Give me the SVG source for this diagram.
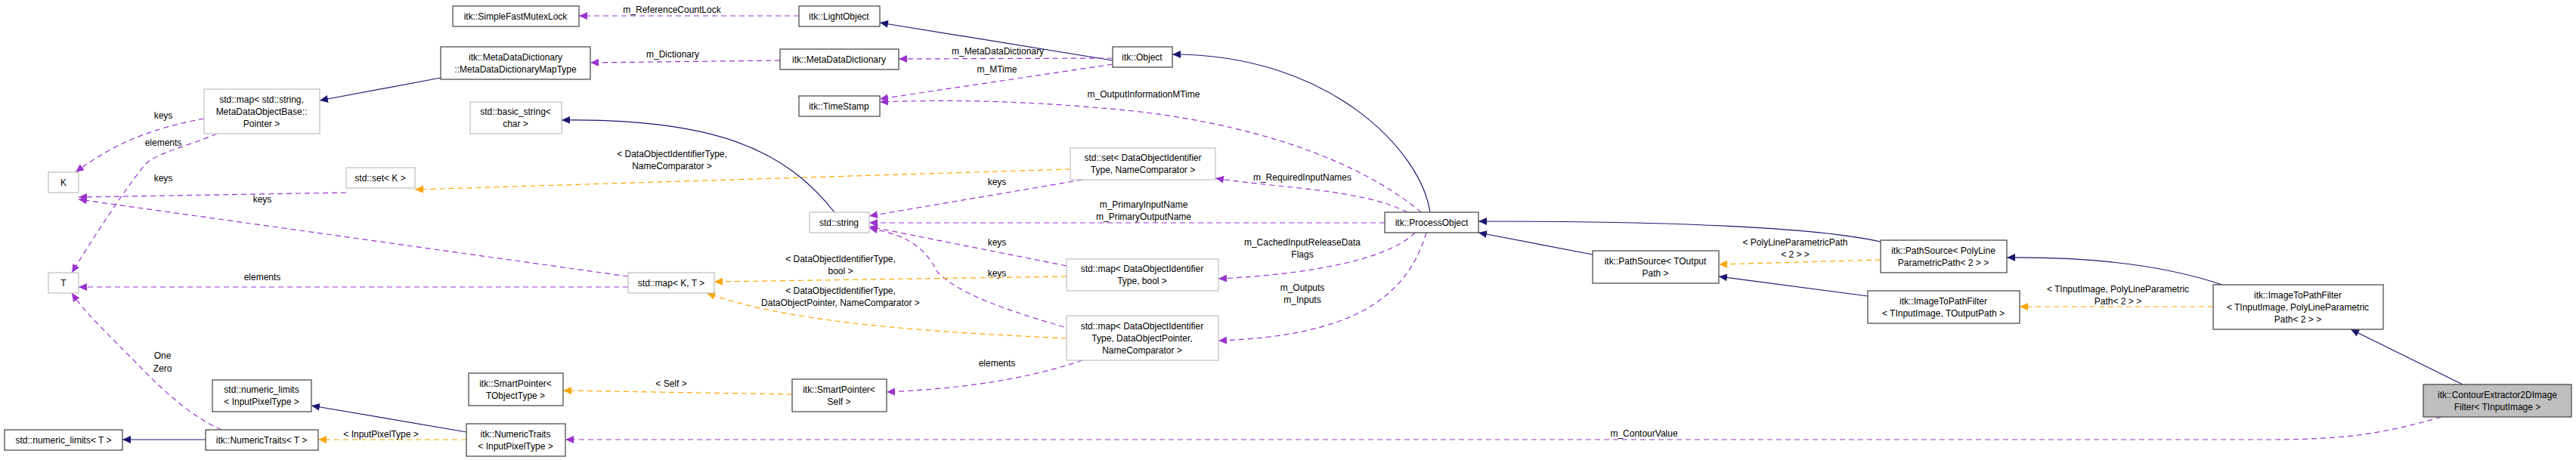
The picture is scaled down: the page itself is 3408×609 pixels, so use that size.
<svg xmlns="http://www.w3.org/2000/svg" width="3408" height="609" viewBox="0 0 3408 609">
<style>
text{font-family:"Liberation Sans",Arial,sans-serif;font-size:12px;fill:#000;text-anchor:middle}
.n rect{fill:#fff;stroke:#404040;stroke-width:1.2}
.g rect{fill:#fff;stroke:#bfbfbf;stroke-width:1.2}
.h rect{fill:#bfbfbf;stroke:#404040;stroke-width:1.2}
.inh{fill:none;stroke:#191970;stroke-width:1.2}
.use{fill:none;stroke:#9a32cd;stroke-width:1.2;stroke-dasharray:7,5}
.tpl{fill:none;stroke:#ffa500;stroke-width:1.2;stroke-dasharray:7,5}
</style>
<defs>
<marker id="aN" markerUnits="userSpaceOnUse" markerWidth="12" markerHeight="10" refX="11" refY="5" orient="auto"><path d="M0,0L11,5L0,10z" fill="#191970"/></marker>
<marker id="aP" markerUnits="userSpaceOnUse" markerWidth="12" markerHeight="10" refX="11" refY="5" orient="auto"><path d="M0,0L11,5L0,10z" fill="#9a32cd"/></marker>
<marker id="aO" markerUnits="userSpaceOnUse" markerWidth="12" markerHeight="10" refX="11" refY="5" orient="auto"><path d="M0,0L11,5L0,10z" fill="#ffa500"/></marker>
</defs>
<g id="edges">
<path class="use" marker-end="url(#aP)" d="M1057,21L766,21"/>
<text x="889" y="17">m_ReferenceCountLock</text>
<path class="inh" marker-end="url(#aN)" d="M1472,80L1164,30"/>
<path class="use" marker-end="url(#aP)" d="M1472,77L1189,78"/>
<text x="1320" y="72">m_MetaDataDictionary</text>
<path class="use" marker-end="url(#aP)" d="M1032,80L781,83"/>
<text x="890" y="76">m_Dictionary</text>
<path class="inh" marker-end="url(#aN)" d="M583,103L423,133"/>
<path class="use" marker-end="url(#aP)" d="M1472,85L1164,131"/>
<text x="1319" y="96">m_MTime</text>
<path class="use" marker-end="url(#aP)" d="M1880,281C1820,230 1700,170 1500,147C1350,132 1250,132 1164,135"/>
<text x="1513" y="129">m_OutputInformationMTime</text>
<path class="inh" marker-end="url(#aN)" d="M1892,281C1880,200 1760,72 1551,72"/>
<path class="use" marker-end="url(#aP)" d="M270,157C200,170 150,190 100,228"/>
<text x="216" y="157">keys</text>
<path class="use" marker-end="url(#aP)" d="M287,177C250,193 215,200 195,215C175,235 120,320 95,361"/>
<text x="216" y="193">elements</text>
<path class="use" marker-end="url(#aP)" d="M458,255L104,261"/>
<text x="216" y="240">keys</text>
<path class="use" marker-end="url(#aP)" d="M831,366L104,264"/>
<text x="347" y="268">keys</text>
<path class="use" marker-end="url(#aP)" d="M831,380L104,380"/>
<text x="347" y="371">elements</text>
<path class="tpl" marker-end="url(#aO)" d="M1416,224L549,251"/>
<text x="889" y="208">&lt; DataObjectIdentifierType,</text>
<text x="889" y="224">NameComparator &gt;</text>
<path class="inh" marker-end="url(#aN)" d="M1104,281C1040,200 950,157 743,159"/>
<path class="use" marker-end="url(#aP)" d="M1432,238L1150,286"/>
<text x="1319" y="245">keys</text>
<path class="use" marker-end="url(#aP)" d="M1862,281C1800,250 1700,250 1608,236"/>
<text x="1723" y="239">m_RequiredInputNames</text>
<path class="use" marker-end="url(#aP)" d="M1832,295L1150,295"/>
<text x="1513" y="275">m_PrimaryInputName</text>
<text x="1513" y="291">m_PrimaryOutputName</text>
<path class="use" marker-end="url(#aP)" d="M1411,352L1150,300"/>
<text x="1319" y="325">keys</text>
<path class="use" marker-end="url(#aP)" d="M1408,433C1330,410 1270,390 1240,360C1220,320 1190,310 1150,302"/>
<text x="1319" y="366">keys</text>
<path class="tpl" marker-end="url(#aO)" d="M1411,366L945,373"/>
<text x="1112" y="347">&lt; DataObjectIdentifierType,</text>
<text x="1112" y="363">bool &gt;</text>
<path class="tpl" marker-end="url(#aO)" d="M1411,448C1250,440 1050,430 935,388"/>
<text x="1112" y="389">&lt; DataObjectIdentifierType,</text>
<text x="1112" y="405">DataObjectPointer, NameComparator &gt;</text>
<path class="use" marker-end="url(#aP)" d="M1872,308C1830,350 1700,365 1612,369"/>
<text x="1723" y="325">m_CachedInputReleaseData</text>
<text x="1723" y="341">Flags</text>
<path class="use" marker-end="url(#aP)" d="M1887,308C1860,400 1780,445 1612,451"/>
<text x="1723" y="385">m_Outputs</text>
<text x="1723" y="401">m_Inputs</text>
<path class="use" marker-end="url(#aP)" d="M1432,477C1350,505 1260,515 1173,519"/>
<text x="1319" y="485">elements</text>
<path class="tpl" marker-end="url(#aO)" d="M1048,522L745,517"/>
<text x="888" y="512">&lt; Self &gt;</text>
<path class="inh" marker-end="url(#aN)" d="M2107,337L1956,308"/>
<path class="inh" marker-end="url(#aN)" d="M2488,320C2400,300 2200,293 1956,293"/>
<path class="tpl" marker-end="url(#aO)" d="M2488,344L2274,350"/>
<text x="2375" y="325">&lt; PolyLineParametricPath</text>
<text x="2375" y="341">&lt; 2 &gt; &gt;</text>
<path class="inh" marker-end="url(#aN)" d="M2471,392L2274,366"/>
<path class="tpl" marker-end="url(#aO)" d="M2928,406L2672,406"/>
<text x="2802" y="387">&lt; TInputImage, PolyLineParametric</text>
<text x="2802" y="403">Path&lt; 2 &gt; &gt;</text>
<path class="inh" marker-end="url(#aN)" d="M2940,377C2860,350 2760,340 2655,341"/>
<path class="inh" marker-end="url(#aN)" d="M3258,509L3110,436"/>
<path class="use" marker-end="url(#aP)" d="M3230,552C3150,575 3100,582 3000,582L748,582"/>
<text x="2175" y="578">m_ContourValue</text>
<path class="inh" marker-end="url(#aN)" d="M617,572L412,537"/>
<path class="tpl" marker-end="url(#aO)" d="M617,582L421,582"/>
<text x="504" y="579">&lt; InputPixelType &gt;</text>
<path class="inh" marker-end="url(#aN)" d="M272,582L162,582"/>
<path class="use" marker-end="url(#aP)" d="M293,569C240,545 200,500 170,470C130,430 110,410 95,388"/>
<text x="215" y="475">One</text>
<text x="215" y="492">Zero</text>
</g>
<g id="n_mutex" class="n"><rect x="599" y="8" width="167" height="27"/><text x="682" y="26">itk::SimpleFastMutexLock</text></g>
<g id="n_light" class="n"><rect x="1057" y="8" width="107" height="27"/><text x="1110" y="26">itk::LightObject</text></g>
<g id="n_maptype" class="n"><rect x="583" y="62" width="198" height="43"/><text x="682" y="80">itk::MetaDataDictionary</text><text x="682" y="96">::MetaDataDictionaryMapType</text></g>
<g id="n_mdd" class="n"><rect x="1032" y="65" width="157" height="27"/><text x="1110" y="83">itk::MetaDataDictionary</text></g>
<g id="n_object" class="n"><rect x="1472" y="62" width="79" height="27"/><text x="1511" y="80">itk::Object</text></g>
<g id="n_timestamp" class="n"><rect x="1057" y="127" width="107" height="27"/><text x="1110" y="145">itk::TimeStamp</text></g>
<g id="n_mapstr" class="g"><rect x="270" y="118" width="153" height="59"/><text x="346" y="136">std::map&lt; std::string,</text><text x="346" y="152">MetaDataObjectBase::</text><text x="346" y="168">Pointer &gt;</text></g>
<g id="n_basic" class="g"><rect x="622" y="135" width="121" height="42"/><text x="682" y="152">std::basic_string&lt;</text><text x="682" y="168">char &gt;</text></g>
<g id="n_K" class="g"><rect x="64" y="228" width="40" height="27"/><text x="84" y="246">K</text></g>
<g id="n_setK" class="g"><rect x="458" y="222" width="91" height="27"/><text x="503" y="240">std::set&lt; K &gt;</text></g>
<g id="n_setDO" class="g"><rect x="1416" y="196" width="192" height="42"/><text x="1512" y="213">std::set&lt; DataObjectIdentifier</text><text x="1512" y="229">Type, NameComparator &gt;</text></g>
<g id="n_string" class="g"><rect x="1071" y="281" width="79" height="27"/><text x="1110" y="299">std::string</text></g>
<g id="n_process" class="n"><rect x="1832" y="281" width="124" height="27"/><text x="1894" y="299">itk::ProcessObject</text></g>
<g id="n_mapbool" class="g"><rect x="1411" y="343" width="201" height="42"/><text x="1511" y="360">std::map&lt; DataObjectIdentifier</text><text x="1511" y="376">Type, bool &gt;</text></g>
<g id="n_mapKT" class="g"><rect x="831" y="361" width="114" height="27"/><text x="888" y="379">std::map&lt; K, T &gt;</text></g>
<g id="n_T" class="g"><rect x="64" y="361" width="40" height="27"/><text x="84" y="379">T</text></g>
<g id="n_mapdop" class="g"><rect x="1411" y="418" width="201" height="59"/><text x="1511" y="436">std::map&lt; DataObjectIdentifier</text><text x="1511" y="452">Type, DataObjectPointer,</text><text x="1511" y="468">NameComparator &gt;</text></g>
<g id="n_spT" class="n"><rect x="620" y="494" width="125" height="43"/><text x="682" y="512">itk::SmartPointer&lt;</text><text x="682" y="528">TObjectType &gt;</text></g>
<g id="n_spSelf" class="n"><rect x="1048" y="502" width="125" height="43"/><text x="1110" y="520">itk::SmartPointer&lt;</text><text x="1110" y="536">Self &gt;</text></g>
<g id="n_nlIPT" class="n"><rect x="281" y="503" width="131" height="42"/><text x="346" y="520">std::numeric_limits</text><text x="346" y="536">&lt; InputPixelType &gt;</text></g>
<g id="n_nlT" class="n"><rect x="6" y="569" width="156" height="27"/><text x="84" y="587">std::numeric_limits&lt; T &gt;</text></g>
<g id="n_ntT" class="n"><rect x="272" y="569" width="149" height="27"/><text x="346" y="587">itk::NumericTraits&lt; T &gt;</text></g>
<g id="n_ntIPT" class="n"><rect x="617" y="561" width="131" height="43"/><text x="682" y="579">itk::NumericTraits</text><text x="682" y="595">&lt; InputPixelType &gt;</text></g>
<g id="n_psTOP" class="n"><rect x="2107" y="332" width="167" height="43"/><text x="2190" y="350">itk::PathSource&lt; TOutput</text><text x="2190" y="366">Path &gt;</text></g>
<g id="n_psPLP" class="n"><rect x="2488" y="318" width="167" height="43"/><text x="2571" y="336">itk::PathSource&lt; PolyLine</text><text x="2571" y="352">ParametricPath&lt; 2 &gt; &gt;</text></g>
<g id="n_itpTOP" class="n"><rect x="2471" y="385" width="201" height="43"/><text x="2571" y="403">itk::ImageToPathFilter</text><text x="2571" y="419">&lt; TInputImage, TOutputPath &gt;</text></g>
<g id="n_itpPLP" class="n"><rect x="2928" y="377" width="225" height="59"/><text x="3040" y="395">itk::ImageToPathFilter</text><text x="3040" y="411">&lt; TInputImage, PolyLineParametric</text><text x="3040" y="427">Path&lt; 2 &gt; &gt;</text></g>
<g id="n_contour" class="h"><rect x="3206" y="509" width="196" height="43"/><text x="3304" y="527">itk::ContourExtractor2DImage</text><text x="3304" y="543">Filter&lt; TInputImage &gt;</text></g>
</svg>
